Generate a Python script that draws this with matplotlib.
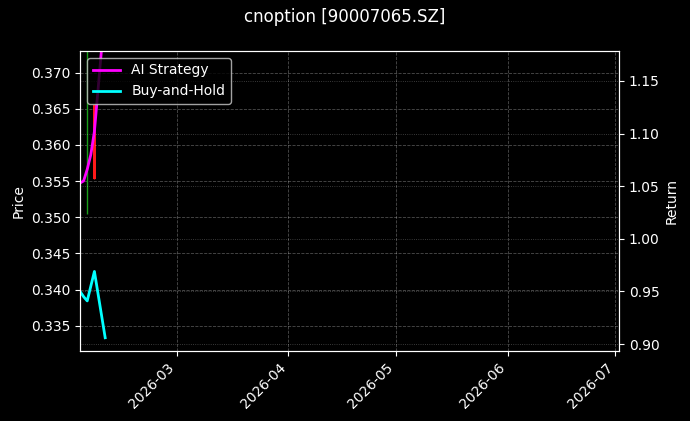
import matplotlib.pyplot as plt
import matplotlib.dates as mdates
import numpy as np
import pandas as pd

plt.style.use('dark_background')

dates = pd.to_datetime(['2026-02-02', '2026-02-03', '2026-02-04',
                        '2026-02-05', '2026-02-06', '2026-02-09'])

# candles (only two show inside the visible price range)
open_ = [np.nan, np.nan, 0.3755, np.nan, 0.3655, np.nan]
high = [np.nan, np.nan, 0.3780, np.nan, 0.3655, np.nan]
low = [np.nan, np.nan, 0.3505, np.nan, 0.3553, np.nan]
close = [np.nan, np.nan, 0.3770, np.nan, 0.3553, np.nan]

ai_return = [1.053, 1.055, 1.066, 1.080, 1.102, 1.22]
bh_return = [0.950, 0.945, 0.941, 0.955, 0.969, 0.906]

fig, ax = plt.subplots(figsize=(6.9, 4.21), dpi=100)
fig.subplots_adjust(left=0.116, right=0.897, top=0.879, bottom=0.166)
ax2 = ax.twinx()

for d, o, h, l, c in zip(dates, open_, high, low, close):
    if np.isnan(o):
        continue
    col = '#1a9e1a' if c >= o else '#ff1a1a'
    ax.vlines(d, l, h, color=col, linewidth=1)
    ax.bar(d, abs(c - o), bottom=min(o, c), width=0.75, color=col)

ax2.plot(dates, ai_return, color='magenta', linewidth=2, label='AI Strategy')
ax2.plot(dates, bh_return, color='cyan', linewidth=2, label='Buy-and-Hold')

ax.set_xlim(pd.Timestamp('2026-02-02'), pd.Timestamp('2026-07-02'))
ax.set_ylim(0.3315, 0.3730)
ax2.set_ylim(0.8933, 1.1785)
ax.set_yticks(np.arange(0.335, 0.3701, 0.005))
ax2.set_yticks(np.arange(0.90, 1.151, 0.05))

ax.xaxis.set_major_locator(mdates.MonthLocator())
ax.xaxis.set_major_formatter(mdates.DateFormatter('%Y-%m'))
plt.setp(ax.get_xticklabels(), rotation=45, ha='right')

ax.grid(True, linestyle='--', linewidth=0.6, alpha=0.3)
ax2.grid(True, linestyle=':', linewidth=0.6, alpha=0.3)

ax.set_ylabel('Price')
ax2.set_ylabel('Return')
ax2.legend(loc='upper left')
fig.suptitle('cnoption [90007065.SZ]')

fig.savefig('out.png')
